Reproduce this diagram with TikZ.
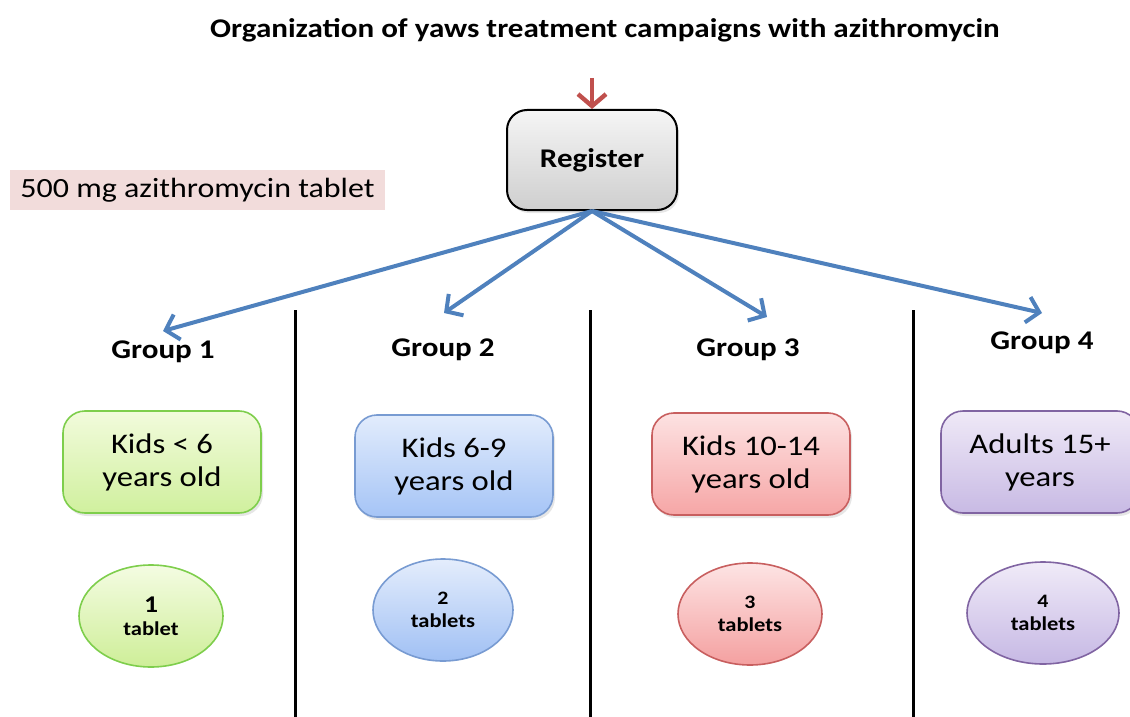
\documentclass[tikz,border=0pt]{standalone}
\usepackage{fontspec}
\setmainfont{Carlito}[FakeStretch=1.15]
\usetikzlibrary{arrows.meta,shapes.geometric,shadows}

\definecolor{flecha}{HTML}{4F81BD}
\definecolor{rojo}{HTML}{C0504D}
\definecolor{rosa}{HTML}{F2DCDB}

\begin{document}
\begin{tikzpicture}[x=0.5pt, y=-0.5pt, line join=round,
    flechas/.style={draw=flecha, line width=2pt,
      -{Straight Barb[length=6pt, width=13pt, line width=2pt]}},
    caja/.style={draw, line width=0.8pt, rounded corners=11pt, align=center,
      minimum width=99pt, minimum height=51pt, inner sep=2pt,
      font=\fontsize{14.2}{16.5}\selectfont,
      drop shadow={opacity=0.2, shadow xshift=1pt, shadow yshift=-1.5pt}},
    pastilla/.style={ellipse, draw, line width=0.8pt, align=center,
      minimum width=72pt, minimum height=51pt, inner sep=0pt,
      font=\bfseries\fontsize{9.8}{11.5}\selectfont},
    grupo/.style={font=\bfseries\fontsize{13.5}{16}\selectfont}]
    \clip (0,0) rectangle (1130,717);
    % titulo y registro
    \node[font=\bfseries\fontsize{13.5}{16}\selectfont] (titulo) at (605,30)
      {Organization of yaws treatment campaigns with azithromycin};
    \node[draw, line width=1pt, rounded corners=10pt, top color=gray!8, bottom color=gray!38,
      minimum width=85pt, minimum height=50pt, font=\bfseries\fontsize{13.5}{16}\selectfont,
      drop shadow={opacity=0.2, shadow xshift=1pt, shadow yshift=-1.5pt}] (reg) at (592,160) {Register};
    \coordinate (arriba) at (592,78);
    \draw[draw=rojo, line width=2.2pt, -{Straight Barb[length=6pt, width=14pt, line width=2.2pt]}]
      (arriba) -- (reg.north);
    \node[fill=rosa, minimum width=187.5pt, minimum height=20pt,
      font=\fontsize{13.9}{15}\selectfont] (tableta) at (197.5,190) {500 mg azithromycin tablet};
    % separadores
    \coordinate (s1) at (295,310); \coordinate (s1b) at (295,717);
    \coordinate (s2) at (590,310); \coordinate (s2b) at (590,717);
    \coordinate (s3) at (913,310); \coordinate (s3b) at (913,717);
    \draw[line width=1.5pt] (s1) -- (s1b) (s2) -- (s2b) (s3) -- (s3b);
    % grupos
    \node[grupo] (g1) at (163,352) {Group 1};
    \node[grupo] (g2) at (443,350) {Group 2};
    \node[grupo] (g3) at (748,350) {Group 3};
    \node[grupo] (g4) at (1042,343) {Group 4};
    \coordinate (p1) at (163,331); \coordinate (p2) at (444,313);
    \coordinate (p3) at (767,317); \coordinate (p4) at (1042,313);
    \draw[flechas] (reg.south) -- (p1);
    \draw[flechas] (reg.south) -- (p2);
    \draw[flechas] (reg.south) -- (p3);
    \draw[flechas] (reg.south) -- (p4);
    % edades
    \node[caja, draw=green!45!olive!70, top color={rgb,255:red,242;green,251;blue,220},
      bottom color={rgb,255:red,208;green,240;blue,158}] (c1) at (162,462) {Kids < 6\\years old};
    \node[caja, draw={rgb,255:red,120;green,155;blue,210}, top color={rgb,255:red,226;green,236;blue,252},
      bottom color={rgb,255:red,165;green,196;blue,246}] (c2) at (454,466) {Kids 6-9\\years old};
    \node[caja, draw={rgb,255:red,200;green,95;blue,95}, top color={rgb,255:red,253;green,226;blue,226},
      bottom color={rgb,255:red,246;green,166;blue,166}] (c3) at (751,464) {Kids 10-14\\years old};
    \node[caja, draw={rgb,255:red,128;green,100;blue,162}, top color={rgb,255:red,239;green,233;blue,247},
      bottom color={rgb,255:red,200;green,186;blue,228}] (c4) at (1040,462) {Adults 15+\\years};
    % tabletas
    \node[pastilla, draw=green!45!olive!70, top color={rgb,255:red,244;green,252;blue,226},
      bottom color={rgb,255:red,206;green,238;blue,152}] (t1) at (151,616)
      {{\fontsize{12}{11.5}\selectfont 1}\\tablet};
    \node[pastilla, draw={rgb,255:red,120;green,155;blue,210}, minimum width=70pt,
      top color={rgb,255:red,228;green,237;blue,252},
      bottom color={rgb,255:red,160;green,192;blue,244}] (t2) at (443,610)
      {{\fontsize{9.5}{11.5}\selectfont 2}\\tablets};
    \node[pastilla, draw={rgb,255:red,200;green,95;blue,95},
      top color={rgb,255:red,253;green,228;blue,228},
      bottom color={rgb,255:red,244;green,160;blue,160}] (t3) at (750,614)
      {{\fontsize{9.5}{11.5}\selectfont 3}\\tablets};
    \node[pastilla, draw={rgb,255:red,128;green,100;blue,162}, minimum width=76pt,
      top color={rgb,255:red,240;green,235;blue,248},
      bottom color={rgb,255:red,198;green,184;blue,228}] (t4) at (1043,613)
      {{\fontsize{9.5}{11.5}\selectfont 4}\\tablets};
\end{tikzpicture}
\end{document}
